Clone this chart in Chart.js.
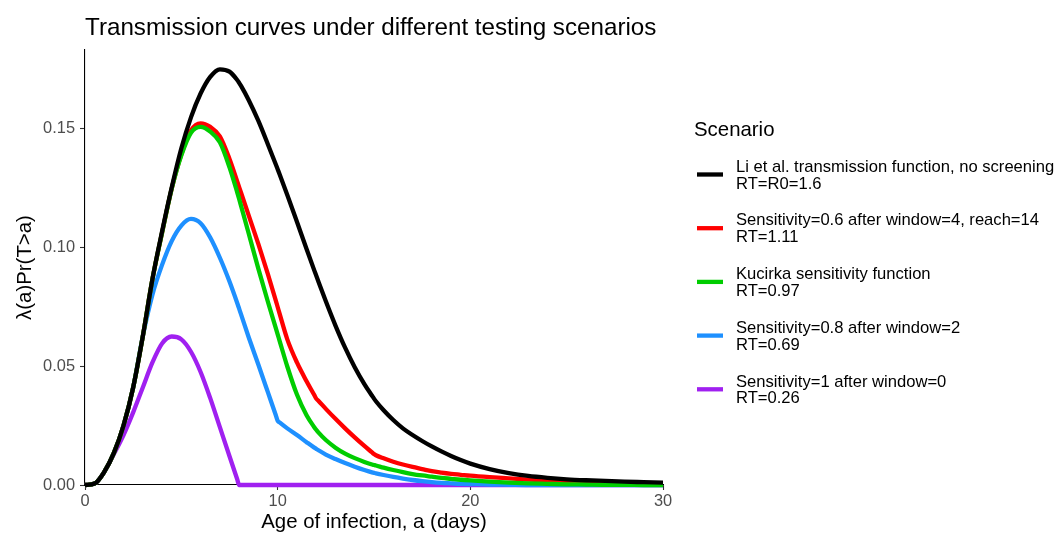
<!DOCTYPE html>
<html>
<head>
<meta charset="utf-8">
<script src="https://cdn.jsdelivr.net/npm/chart.js@4.4.1/dist/chart.umd.min.js"></script>
<style>
  html, body { margin: 0; padding: 0; background: #ffffff; }
  #wrap { width: 1058px; height: 533px; }
  canvas { display: block; }
</style>
</head>
<body>
<div id="wrap"><canvas id="c" width="1058" height="533"></canvas></div>
<script>
// ---------------- DATA ----------------
const chartTitle = 'Transmission curves under different testing scenarios';
const xAxisTitle = 'Age of infection, a (days)';
const yAxisTitle = 'λ(a)Pr(T>a)';
const legendTitle = 'Scenario';

const scenarioNames = [
  'Li et al. transmission function, no screening',
  'Sensitivity=0.6 after window=4, reach=14',
  'Kucirka sensitivity function',
  'Sensitivity=0.8 after window=2',
  'Sensitivity=1 after window=0'
];
const rtLabels = ['RT=R0=1.6', 'RT=1.11', 'RT=0.97', 'RT=0.69', 'RT=0.26'];
const scenarioColors = ['#000000', '#FF0000', '#00CD00', '#1E90FF', '#A020F0'];

const xTicks = [0, 10, 20, 30];
const xTickLabels = ['0', '10', '20', '30'];
const yTicks = [0, 0.05, 0.10, 0.15];
const yTickLabels = ['0.00', '0.05', '0.10', '0.15'];

// age of infection (days)
const ages = [0,0.5,1,1.5,2,2.5,3,3.5,4,4.5,5,5.5,6,6.5,7,7.5,7.9,8,8.1,8.5,9,9.5,9.9,10,10.1,10.5,11,11.5,11.9,12,12.1,12.5,13,13.5,14,14.5,14.9,15,15.1,15.5,16,16.5,17,17.5,18,18.5,19,19.5,20,21,22,23,24,25,26,27,28,29,30];

const liNoScreening = [0,0.0006,0.0055,0.0135,0.025,0.041,0.0625,0.0865,0.1065,0.125,0.1415,0.1545,0.1645,0.1715,0.1747,0.1737,0.1702,0.1690,0.1677,0.1617,0.1530,0.1430,0.1348,0.1327,0.1306,0.1219,0.1106,0.0992,0.0902,0.0880,0.0858,0.0772,0.0670,0.0577,0.0495,0.0424,0.0375,0.0363,0.0352,0.0314,0.0273,0.0238,0.0210,0.0185,0.0162,0.0141,0.0122,0.0105,0.0090,0.0067,0.0050,0.0038,0.0030,0.0024,0.0020,0.0017,0.0014,0.0012,0.0010];

const sens06Window4 = [0,0.0006,0.0055,0.0135,0.025,0.041,0.0625,0.0865,0.106,0.1245,0.139,0.149,0.152,0.1505,0.1465,0.137,0.1276,0.1252,0.1228,0.1132,0.1012,0.0884,0.0776,0.0748,0.0720,0.0612,0.0515,0.0436,0.0378,0.0363,0.0355,0.0320,0.0278,0.0238,0.0200,0.0164,0.0137,0.0130,0.0125,0.0112,0.0098,0.0086,0.0076,0.0067,0.0058,0.0052,0.0047,0.0043,0.0039,0.0033,0.0028,0.0023,0.0018,0.0014,0.0011,0.0008,0.0006,0.0005,0.0004];

const kucirka = [0,0.0006,0.0055,0.0135,0.025,0.041,0.0625,0.0865,0.106,0.1245,0.1385,0.148,0.1505,0.1485,0.1440,0.1335,0.1230,0.1202,0.1173,0.1056,0.0908,0.0768,0.0660,0.0633,0.0606,0.0498,0.0380,0.0293,0.0243,0.0232,0.0222,0.0189,0.0157,0.0132,0.0113,0.0097,0.0086,0.0084,0.0082,0.0073,0.0063,0.0054,0.0046,0.0040,0.0035,0.0030,0.0026,0.0022,0.0019,0.0014,0.0010,0.0007,0.0005,0.0003,0.0002,0.0001,0.0001,0,0];

const sens08Window2 = [0,0.0006,0.0055,0.0135,0.025,0.041,0.0625,0.0800,0.0925,0.1025,0.1090,0.1118,0.1100,0.1040,0.0955,0.0855,0.0765,0.0741,0.0717,0.0620,0.0505,0.0388,0.0294,0.0270,0.0263,0.0238,0.0210,0.0180,0.0157,0.0152,0.0147,0.0128,0.0109,0.0092,0.0077,0.0063,0.0053,0.0051,0.0049,0.0042,0.0034,0.0027,0.0021,0.0016,0.0012,0.0009,0.0007,0.0005,0.0004,0.0002,0.0001,0,0,0,0,0,0,0,0];

const sens1Window0 = [0,0.0006,0.0055,0.013,0.021,0.0305,0.0410,0.0515,0.0595,0.0624,0.0612,0.0560,0.0475,0.0365,0.0243,0.0121,0.0024,0,0,0,0,0,0,0,0,0,0,0,0,0,0,0,0,0,0,0,0,0,0,0,0,0,0,0,0,0,0,0,0,0,0,0,0,0,0,0,0,0,0];

const seriesValues = [liNoScreening, sens06Window4, kucirka, sens08Window2, sens1Window0];
const drawOrder = [0, 2, 1, 3, 4]; // lower = drawn on top

// ---------------- CHART ----------------
const FONT = '"Liberation Sans", Arial, Helvetica, sans-serif';

const datasets = seriesValues.map((vals, i) => ({
  label: scenarioNames[i],
  data: ages.map((a, j) => ({ x: a, y: vals[j] })),
  borderColor: scenarioColors[i],
  backgroundColor: scenarioColors[i],
  borderWidth: 4.3,
  pointRadius: 0,
  pointHoverRadius: 0,
  cubicInterpolationMode: 'monotone',
  fill: false,
  clip: false,
  borderJoinStyle: 'round',
  borderCapStyle: 'butt',
  order: drawOrder[i]
}));

const overlay = {
  id: 'overlay',
  afterDraw(chart) {
    const ctx = chart.ctx;
    const ca = chart.chartArea;
    ctx.save();
    ctx.textAlign = 'left';
    ctx.textBaseline = 'alphabetic';
    ctx.fillStyle = '#000000';
    ctx.font = '24.2px ' + FONT;
    ctx.fillText(chartTitle, ca.left, 35);

    ctx.font = '20.4px ' + FONT;
    ctx.fillText(legendTitle, 694, 136.3);

    for (let i = 0; i < scenarioNames.length; i++) {
      const ky = 174.5 + i * 53.7;
      ctx.strokeStyle = scenarioColors[i];
      ctx.lineWidth = 4.3;
      ctx.lineCap = 'butt';
      ctx.beginPath();
      ctx.moveTo(697, ky);
      ctx.lineTo(723, ky);
      ctx.stroke();
      ctx.fillStyle = '#000000';
      ctx.font = '16.6px ' + FONT;
      ctx.fillText(scenarioNames[i], 736, ky - 2.8);
      ctx.fillText(rtLabels[i], 736, ky + 14);
    }
    ctx.restore();
  }
};

new Chart(document.getElementById('c'), {
  type: 'line',
  data: { datasets },
  plugins: [overlay],
  options: {
    responsive: false,
    animation: false,
    devicePixelRatio: 1,
    layout: { padding: { left: 0, right: 395, top: 50, bottom: 0 } },
    plugins: { legend: { display: false }, title: { display: false }, tooltip: { enabled: false } },
    scales: {
      x: {
        type: 'linear',
        min: 0,
        max: 30,
        afterBuildTicks: s => { s.ticks = xTicks.map(v => ({ value: v })); },
        afterFit: s => { s.height = 48; },
        ticks: {
          color: '#4D4D4D',
          font: { family: FONT, size: 16.4 },
          padding: 2,
          maxRotation: 0,
          autoSkip: false,
          callback: (v, i) => xTickLabels[i]
        },
        grid: { display: true, drawOnChartArea: false, drawTicks: true, tickLength: 5, tickColor: '#333333', tickWidth: 1.1 },
        border: { display: true, color: '#000000', width: 1.1 },
        title: { display: true, text: xAxisTitle, color: '#000000', font: { family: FONT, size: 20.4, lineHeight: 1 }, padding: { top: 0, bottom: 0 } }
      },
      y: {
        type: 'linear',
        min: 0,
        max: 0.1828,
        afterBuildTicks: s => { s.ticks = yTicks.map(v => ({ value: v })); },
        afterFit: s => { s.width = 85; },
        ticks: {
          color: '#4D4D4D',
          font: { family: FONT, size: 16.4 },
          padding: 5,
          autoSkip: false,
          callback: (v, i) => yTickLabels[i]
        },
        grid: { display: true, drawOnChartArea: false, drawTicks: true, tickLength: 5, tickColor: '#333333', tickWidth: 1.1 },
        border: { display: true, color: '#000000', width: 1.1 },
        title: { display: true, text: yAxisTitle, color: '#000000', font: { family: FONT, size: 20.4, lineHeight: 1 }, padding: { top: 15, bottom: 0 } }
      }
    }
  }
});
</script>
</body>
</html>
